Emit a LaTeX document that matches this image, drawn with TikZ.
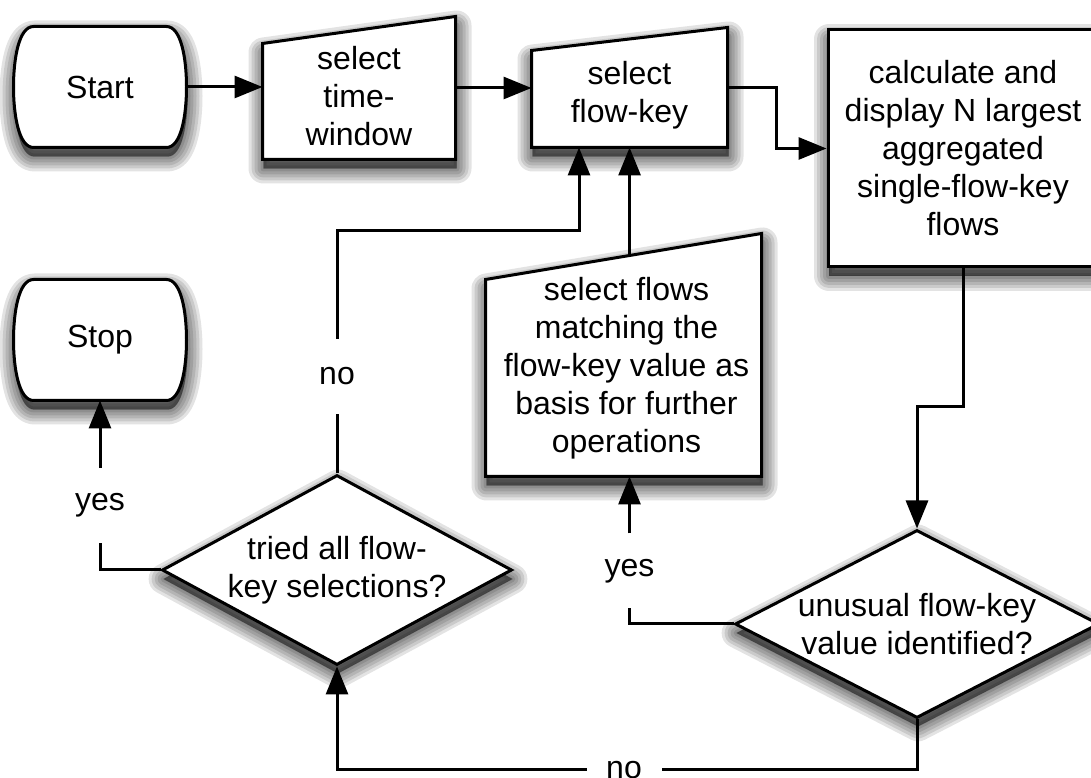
\documentclass[tikz,border=0pt]{standalone}
\usepackage{fontspec}
\setmainfont{Liberation Sans}
\usetikzlibrary{arrows.meta,shapes.geometric,calc}

\begin{document}
\begin{tikzpicture}[x=1pt,y=1pt,line width=3pt,
  txt/.style={font=\fontsize{32}{38}\selectfont, align=center},
  % soft drop shadow built from a few widened, translucent copies
  ghost/.style={preaction={draw=black, fill=black, opacity=0.11,
      line width=#1, line join=round,
      transform canvas={xshift=1pt, yshift=-9pt}}},
  dropshadow/.style={ghost=30pt, ghost=24pt, ghost=18pt, ghost=12pt, ghost=6pt, ghost=1pt},
  slot/.style={rectangle, inner sep=0pt},
  outline/.style={draw, fill=white, dropshadow},
  proc/.style={rectangle, draw, fill=white, dropshadow, txt, inner sep=0pt},
  dec/.style={diamond, draw, fill=white, dropshadow, inner sep=0pt},
  gap/.style={txt, inner sep=0pt, minimum size=72pt},
  arr/.style={-{Triangle[length=28pt,width=22pt]}},
]
\useasboundingbox (0,0) rectangle (1091,778);

% frames of the hand-drawn blocks
\node[slot, minimum width=170pt, minimum height=118pt] (start) at (100,691) {};
\node[slot, minimum width=170pt, minimum height=118pt] (stop) at (100,438) {};
\node[slot, minimum width=190pt, minimum height=140pt] (tw) at (359,690) {};
\node[slot, minimum width=193pt, minimum height=117pt] (fk) at (629.5,690.5) {};
\node[slot, minimum width=273pt, minimum height=240pt] (sf) at (623.5,423) {};

% terminal outlines
\foreach \t in {start,stop}{
  \draw[outline] ($(\t.north west)+(20,0)$) -- ($(\t.north east)+(-20,0)$)
    .. controls ($(\t.north east)+(-5,0)$) and ($(\t.east)+(0,27)$) .. (\t.east)
    .. controls ($(\t.east)+(0,-27)$) and ($(\t.south east)+(-5,0)$) .. ($(\t.south east)+(-20,0)$)
    -- ($(\t.south west)+(20,0)$)
    .. controls ($(\t.south west)+(5,0)$) and ($(\t.west)+(0,-27)$) .. (\t.west)
    .. controls ($(\t.west)+(0,27)$) and ($(\t.north west)+(5,0)$) .. ($(\t.north west)+(20,0)$)
    -- cycle;
}
% manual-input outlines (slanted top edge)
\draw[outline] (tw.south west) -- (tw.south east) -- (tw.north east)
  -- ($(tw.north west)+(0,-27)$) -- cycle;
\draw[outline] (fk.south west) -- (fk.south east) -- (fk.north east)
  -- ($(fk.north west)+(0,-23)$) -- cycle;
\draw[outline] (sf.south west) -- (sf.south east) -- (sf.north east)
  -- ($(sf.north west)+(0,-46)$) -- cycle;
\coordinate (sftop) at ($($(sf.north west)+(0,-46)$)!0.522!(sf.north east)$);

% block texts
\node[txt] (start-t) at (start) {Start};
\node[txt] (stop-t) at (stop) {Stop};
\node[txt, yshift=-8pt] (tw-t) at (tw) {select\\time-\\window};
\node[txt, yshift=-7.5pt] (fk-t) at (fk) {select\\flow-key};
\node[txt, xshift=3pt, yshift=-13pt] (sf-t) at (sf)
  {select flows\\matching the\\flow-key value as\\basis for further\\operations};

% process
\node[proc, minimum width=270pt, minimum height=237pt] (calcbox) at (963,629.5)
  {calculate and\\display N largest\\aggregated\\single-flow-key\\flows};

% decisions
\node[dec, minimum width=350pt, minimum height=190pt,
  label={[txt]center:tried all flow-\\key selections?}] (tried) at (337,208) {};
\node[dec, minimum width=364pt, minimum height=188pt,
  label={[txt]center:unusual flow-key\\value identified?}] (unu) at (917,154) {};

% branch labels
\node[gap] (no1) at (337,401.5) {no};
\node[gap] (yes1) at (100,272.5) {yes};
\node[gap] (yes2) at (629.5,207) {yes};
\node[gap] (no2) at (624,8) {no};

% connectors
\draw[arr] (start.east) -- (start.east -| tw.west);
\draw[arr] (tw.east) -- (tw.east -| fk.west);
\draw[arr] (fk.east) -- ++(49,0) |- (calcbox.west);
\draw[arr] (calcbox.south) -- ++(0,-138) -| (unu.north);
\draw (unu.west) -| (yes2.south);
\draw[arr] (yes2.north) -- (yes2.north |- sf.south);
\draw[arr] (sftop) -- (sftop |- fk.south);
\draw (unu.south) |- (no2.east);
\draw[arr] (no2.west) -| (tried.south);
\draw (tried.north) -- (no1.south);
\draw[arr] (no1.north) -- ++(0,108) -| ([xshift=-50.5pt]fk.south);
\draw (tried.west) -| (yes1.south);
\draw[arr] (yes1.north) -- (yes1.north |- stop.south);
\end{tikzpicture}
\end{document}
